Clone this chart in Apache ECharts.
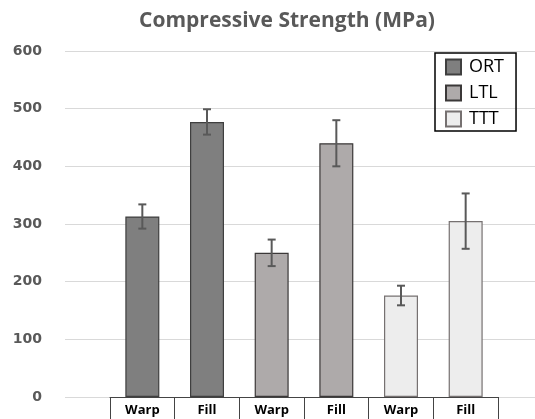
<!DOCTYPE html>
<html><head><meta charset="utf-8">
<script src="https://cdn.jsdelivr.net/npm/echarts@6/dist/echarts.min.js"></script>
<style>html,body{margin:0;padding:0;background:#fff}#c{width:535px;height:419px}</style>
</head><body><div id="c"></div>
<script>
const categories = ['Warp', 'Fill', 'Warp', 'Fill', 'Warp', 'Fill'];
const seriesNames = ['ORT', 'LTL', 'TTT'];
const ortValues = [313, 477, '-', '-', '-', '-'];
const ltlValues = ['-', '-', 250, 440, '-', '-'];
const tttValues = ['-', '-', '-', '-', 176, 305];
const means = [313, 477, 250, 440, 176, 305];
const errors = [21, 22, 23, 40, 17, 48];
const yTicks = [0, 100, 200, 300, 400, 500, 600];

const fills = ['#7f7f7f', '#aeaaaa', '#ededed'];
const borders = ['#3f3f3f', '#3b3838', '#767171'];

const chart = echarts.init(document.getElementById('c'), null, {renderer: 'canvas'});
const errData = means.map((m, i) => [i, m - errors[i], m + errors[i]]);
const valueSets = [ortValues, ltlValues, tttValues];

const option = {
  animation: false,
  title: {
    text: 'Compressive Strength (MPa)',
    left: 282, textAlign: 'center', top: 6,
    textStyle: {fontFamily: 'Open Sans', fontWeight: 'bold', fontSize: 21, color: '#595959'}
  },
  legend: {
    data: seriesNames,
    orient: 'vertical',
    left: 435, top: 53,
    borderColor: '#000', borderWidth: 1.5,
    padding: [5, 12, 3, 10],
    itemGap: 8,
    itemWidth: 15, itemHeight: 15,
    icon: 'rect',
    textStyle: {fontFamily: 'Open Sans', fontSize: 18, color: '#000', padding: [0, 0, 0, 3]}
  },
  grid: [
    {left: 65, right: 0, top: 51, bottom: 22},
    {left: 110, width: 388, top: 51, bottom: 22}
  ],
  xAxis: [
    {type: 'value', gridIndex: 0, show: false, min: 0, max: 1},
    {
      type: 'category', gridIndex: 1, data: categories,
      axisLine: {show: true, lineStyle: {color: '#444', width: 1}},
      axisTick: {show: true, length: 24, lineStyle: {color: '#444', width: 1}},
      axisLabel: {margin: 7, fontFamily: 'Open Sans', fontWeight: 'bold', fontSize: 13, color: '#000'}
    }
  ],
  yAxis: [
    {
      type: 'value', gridIndex: 0, min: 0, max: 600, interval: 100,
      axisLine: {show: false}, axisTick: {show: false},
      splitLine: {lineStyle: {color: '#d9d9d9', width: 1}},
      axisLabel: {margin: 23, fontFamily: 'DejaVu Sans', fontWeight: 'bold', fontSize: 14, color: '#595959',
        formatter: v => yTicks.includes(v) ? String(v) : ''}
    },
    {type: 'value', gridIndex: 1, min: 0, max: 600, interval: 100, show: false, splitLine: {show: false}}
  ],
  series: [
    ...valueSets.map((vals, k) => ({
      name: seriesNames[k], type: 'bar', xAxisIndex: 1, yAxisIndex: 1,
      data: vals, barWidth: 34, barGap: '-100%',
      itemStyle: {color: fills[k], borderColor: borders[k], borderWidth: 1.2}
    })),
    {
      type: 'custom', xAxisIndex: 1, yAxisIndex: 1, z: 10,
      data: errData,
      renderItem: function (params, api) {
        const x = api.value(0);
        const lo = api.coord([x, api.value(1)]);
        const hi = api.coord([x, api.value(2)]);
        const hw = 4;
        const st = {stroke: '#595959', lineWidth: 2};
        return {type: 'group', children: [
          {type: 'line', shape: {x1: lo[0], y1: lo[1], x2: hi[0], y2: hi[1]}, style: st},
          {type: 'line', shape: {x1: hi[0] - hw, y1: hi[1], x2: hi[0] + hw, y2: hi[1]}, style: st},
          {type: 'line', shape: {x1: lo[0] - hw, y1: lo[1], x2: lo[0] + hw, y2: lo[1]}, style: st}
        ]};
      }
    }
  ]
};
chart.setOption(option);
</script></body></html>
